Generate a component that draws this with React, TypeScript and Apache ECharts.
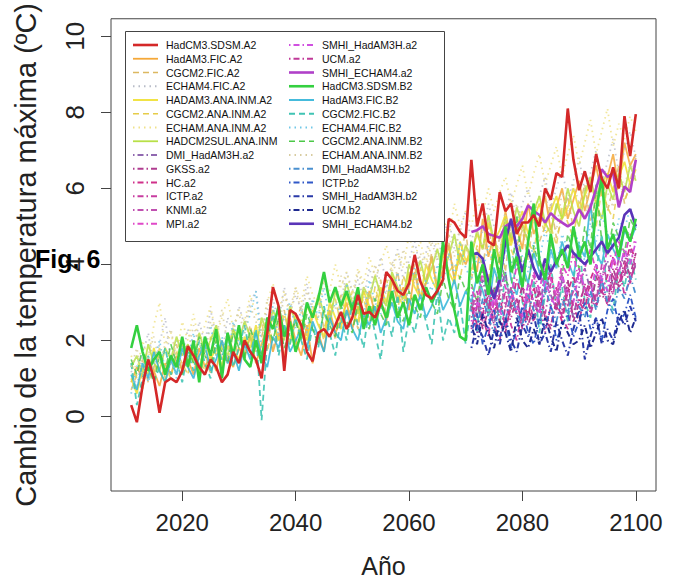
import React, { useEffect, useRef } from 'react';
import * as echarts from 'echarts';

// ---------- data ----------
const fullYears: number[] = Array.from({ length: 90 }, (_, i) => 2011 + i); // 2011..2100
const rcmYears: number[] = Array.from({ length: 30 }, (_, i) => 2071 + i); // 2071..2100

const xTicks = [2020, 2040, 2060, 2080, 2100];
const yTicks = [0, 2, 4, 6, 8, 10];

const hadcm3SdsmA2 = [
  0.3, -0.15, 0.8, 1.5, 1.0, 0.1, 0.9, 1.0, 0.9, 1.2,
  1.85, 1.6, 1.3, 1.1, 1.5, 1.3, 0.9, 1.1, 1.7, 1.4,
  2.0, 1.7, 1.5, 1.0, 2.2, 3.4, 2.9, 1.2, 2.8, 2.7,
  2.4, 1.7, 1.45, 2.2, 2.3, 2.1, 2.4, 2.75, 2.3, 2.6,
  3.2, 2.7, 2.75, 2.6, 2.95, 3.8, 3.6, 3.3, 3.2, 3.5,
  4.25, 3.55, 3.2, 3.1, 3.3, 3.6, 5.2, 5.1, 4.85, 4.7,
  6.75, 5.0, 5.6, 4.6, 4.5, 5.9, 5.4, 5.6, 4.8, 5.1,
  5.1, 5.3, 5.0, 6.0, 5.7, 6.4, 6.3, 8.1, 6.75, 5.95,
  6.45, 5.9, 6.9, 6.25, 6.0, 6.55, 6.0, 7.9, 6.85, 7.95,
];
const hadam3FicA2 = [
  0.9, 1.3, 1.0, 1.5, 1.2, 0.8, 1.4, 1.1, 1.6, 1.2,
  1.5, 1.1, 1.8, 1.3, 1.6, 1.2, 2.0, 1.5, 1.3, 1.8,
  1.6, 2.1, 1.4, 1.9, 2.4, 1.7, 2.2, 1.5, 2.6, 2.0,
  1.6, 2.4, 1.4, 2.2, 1.7, 2.8, 2.2, 2.5, 3.0, 2.3,
  2.9, 2.4, 3.3, 2.7, 3.1, 2.5, 3.6, 3.0, 3.4, 2.8,
  3.8, 3.1, 3.5, 4.2, 3.3, 3.9, 4.5, 3.6, 4.3, 4.0,
  4.4, 3.8, 5.2, 4.2, 4.8, 4.0, 5.4, 4.6, 5.0, 4.4,
  5.6, 4.8, 5.2, 5.8, 4.9, 5.5, 6.0, 5.2, 5.7, 6.2,
  5.4, 6.0, 6.6, 5.8, 6.3, 6.9, 6.0, 7.2, 6.6, 6.9,
];
const cgcm2FicA2 = [
  0.7, 1.1, 1.5, 0.9, 1.3, 1.7, 1.0, 1.4, 1.9, 1.2,
  1.6, 2.0, 1.3, 1.7, 1.1, 2.1, 1.5, 1.8, 2.3, 1.4,
  1.9, 2.4, 1.7, 2.1, 2.6, 1.8, 2.3, 2.8, 1.9, 2.5,
  2.9, 2.1, 2.6, 3.1, 2.3, 2.8, 2.0, 3.2, 2.6, 2.9,
  2.3, 3.3, 2.7, 3.0, 3.6, 2.6, 3.2, 3.8, 2.9, 3.4,
  4.0, 3.1, 3.6, 4.3, 3.4, 3.9, 4.6, 3.7, 4.2, 4.9,
  3.6, 4.4, 3.9, 5.0, 4.2, 4.7, 3.8, 5.2, 4.5, 4.9,
  4.1, 5.3, 4.6, 5.0, 5.6, 4.7, 5.2, 5.8, 4.9, 5.5,
  6.1, 5.1, 5.7, 6.3, 5.4, 6.0, 6.6, 5.6, 6.2, 6.8,
];
const echam4FicA2 = [
  1.2, 0.8, 1.6, 2.2, 1.3, 1.9, 2.6, 1.4, 2.0, 1.6,
  2.3, 1.7, 2.5, 1.9, 2.8, 2.1, 1.6, 2.6, 2.2, 2.9,
  2.4, 3.0, 3.3, 2.2, 2.8, 3.1, 2.5, 3.4, 2.7, 3.2,
  2.8, 3.5, 2.6, 3.2, 3.7, 2.9, 3.4, 3.0, 3.8, 3.3,
  3.6, 3.1, 3.9, 3.4, 4.2, 3.5, 3.9, 4.4, 3.6, 4.1,
  4.6, 3.9, 4.3, 4.9, 4.1, 4.7, 5.2, 4.4, 4.9, 5.4,
  4.6, 5.2, 4.8, 5.6, 5.0, 4.6, 5.4, 5.9, 5.1, 5.6,
  6.0, 5.3, 5.8, 6.3, 5.5, 6.0, 6.5, 5.7, 6.2, 6.8,
  5.9, 6.4, 7.0, 6.1, 6.7, 7.3, 6.4, 7.0, 7.5, 6.8,
];
const hadam3AnaInmA2 = [
  1.0, 0.6, 1.3, 1.1, 1.8, 1.2, 0.9, 1.6, 1.3, 1.9,
  1.4, 1.7, 1.2, 2.0, 1.5, 1.8, 1.3, 2.2, 1.7, 1.5,
  2.1, 1.8, 2.4, 1.6, 2.2, 2.6, 2.0, 2.3, 1.9, 2.7,
  2.3, 2.0, 2.8, 2.4, 2.1, 3.0, 2.6, 2.3, 3.2, 2.7,
  2.5, 3.3, 2.9, 2.6, 3.4, 3.0, 3.7, 3.2, 2.9, 3.8,
  3.4, 3.1, 4.0, 3.6, 3.3, 4.3, 3.8, 3.5, 4.6, 4.1,
  4.3, 4.8, 4.4, 5.1, 4.6, 4.9, 5.3, 4.5, 5.0, 5.4,
  4.8, 5.2, 5.6, 5.0, 5.4, 5.8, 5.2, 5.5, 6.0, 5.4,
  5.8, 6.2, 5.6, 6.1, 6.4, 5.9, 6.3, 6.7, 6.1, 6.5,
];
const cgcm2AnaInmA2 = [
  1.4, 1.0, 0.7, 1.5, 1.1, 1.8, 1.3, 1.0, 1.7, 1.4,
  1.1, 1.9, 1.5, 1.2, 2.1, 1.6, 1.9, 1.4, 2.3, 1.8,
  1.5, 2.2, 1.9, 2.5, 1.7, 2.4, 2.0, 2.7, 2.2, 1.9,
  2.6, 2.2, 2.9, 2.5, 2.0, 2.8, 3.1, 2.4, 2.7, 3.3,
  2.8, 3.1, 2.5, 3.4, 2.9, 3.6, 3.1, 2.8, 3.7, 3.3,
  3.0, 3.9, 3.5, 4.1, 3.3, 4.4, 3.8, 4.0, 3.6, 4.5,
  3.8, 4.5, 4.0, 3.6, 4.7, 4.2, 4.9, 4.4, 4.0, 5.1,
  4.6, 4.3, 5.3, 4.8, 5.0, 4.5, 5.5, 5.1, 4.7, 5.7,
  5.2, 5.5, 5.0, 6.0, 5.5, 5.2, 6.2, 5.7, 6.0, 6.4,
];
const echamAnaInmA2 = [
  1.6, 1.2, 2.0, 1.5, 2.4, 3.0, 1.8, 2.2, 1.6, 2.5,
  2.0, 2.7, 1.9, 2.4, 2.9, 2.1, 2.6, 3.1, 2.3, 2.8,
  2.5, 3.2, 2.7, 2.2, 3.0, 3.5, 2.8, 3.3, 2.6, 3.4,
  3.0, 3.7, 3.2, 2.9, 3.6, 3.3, 4.0, 3.4, 3.8, 3.2,
  3.9, 3.5, 4.2, 3.7, 4.0, 4.5, 3.8, 4.3, 3.9, 4.8,
  4.2, 4.6, 4.0, 4.9, 4.4, 5.3, 4.7, 5.6, 5.0, 5.4,
  5.0, 5.7, 5.3, 6.0, 5.4, 5.9, 6.3, 5.6, 6.1, 6.6,
  5.8, 6.4, 6.9, 6.1, 6.6, 7.1, 6.3, 6.9, 7.4, 6.6,
  7.2, 7.8, 6.9, 7.5, 8.1, 7.1, 7.7, 7.3, 7.9, 7.5,
];
const hadcm2sulAnaInm = [
  1.3, 1.6, 1.1, 1.9, 1.4, 1.2, 1.8, 1.5, 2.1, 1.6,
  1.9, 1.4, 2.2, 1.7, 2.0, 2.4, 1.8, 1.6, 2.3, 2.0,
  2.5, 2.1, 1.8, 2.6, 2.2, 2.8, 2.4, 2.0, 2.9, 2.5,
  2.2, 2.9, 2.6, 3.2, 2.7, 2.4, 3.3, 2.9, 3.5, 3.0,
  2.7, 3.4, 3.1, 3.7, 3.2, 2.9, 3.8, 3.4, 3.1, 4.0,
  3.6, 4.1, 3.5, 3.9, 4.4, 3.8, 4.2, 4.8, 4.0, 4.5,
  4.2, 4.9, 4.4, 5.3, 4.6, 4.1, 5.2, 4.7, 5.5, 5.0,
  4.6, 5.4, 5.8, 5.1, 4.8, 5.6, 5.2, 6.0, 5.4, 5.0,
  5.9, 6.3, 5.6, 5.2, 6.1, 5.7, 6.4, 5.9, 6.6, 6.2,
];
const dmiA2 = [3.2, 2.6, 3.6, 2.9, 2.4, 3.3, 3.8, 2.8, 3.1, 2.5, 3.5, 3.0, 2.7, 3.9, 3.2, 2.8, 3.6, 3.1, 2.6, 3.4, 3.9, 3.3, 2.9, 3.7, 4.1, 3.4, 3.8, 4.3, 3.6, 4.0];
const gkssA2 = [2.6, 3.1, 2.3, 2.8, 3.4, 2.5, 2.2, 3.0, 2.7, 3.5, 2.4, 2.9, 3.3, 2.6, 2.3, 3.1, 2.8, 3.6, 2.5, 3.0, 3.4, 2.8, 3.7, 3.2, 3.0, 3.9, 3.4, 4.1, 3.7, 4.3];
const hcA2 = [3.0, 2.4, 2.8, 3.5, 2.7, 3.2, 2.3, 2.9, 3.6, 3.1, 2.6, 3.4, 2.8, 3.3, 3.8, 2.9, 2.5, 3.3, 3.7, 3.0, 2.8, 3.6, 4.0, 3.3, 3.7, 4.2, 3.5, 3.9, 4.5, 4.1];
const ictpA2 = [2.3, 2.9, 2.6, 2.1, 3.1, 2.7, 3.3, 2.4, 2.0, 2.8, 3.2, 2.5, 3.0, 2.2, 2.9, 3.4, 2.6, 2.3, 3.1, 2.8, 3.5, 2.7, 3.2, 3.6, 2.9, 3.4, 3.9, 3.2, 3.6, 4.0];
const knmiA2 = [2.8, 3.3, 2.5, 3.0, 2.6, 3.6, 2.9, 3.4, 2.7, 2.4, 3.2, 3.7, 3.0, 2.7, 3.5, 3.1, 3.8, 2.9, 3.3, 3.9, 3.2, 3.5, 3.0, 4.0, 3.6, 3.2, 4.2, 3.7, 4.4, 3.9];
const mpiA2 = [3.4, 2.9, 3.8, 3.2, 2.8, 3.9, 3.4, 3.1, 4.0, 3.5, 3.0, 3.8, 3.3, 4.1, 3.6, 3.2, 4.0, 3.7, 4.3, 3.5, 3.9, 4.4, 3.8, 3.5, 4.5, 4.0, 4.6, 4.2, 4.8, 4.5];
const smhiHadA2 = [2.5, 3.0, 2.7, 2.3, 3.2, 2.8, 2.4, 3.3, 2.9, 2.6, 3.5, 3.0, 2.7, 3.6, 3.1, 2.9, 3.7, 3.2, 3.0, 3.8, 3.4, 3.1, 4.0, 3.6, 3.3, 4.2, 3.8, 4.4, 4.0, 4.6];
const ucmA2 = [2.9, 2.2, 2.7, 3.2, 2.4, 2.0, 2.9, 2.6, 3.1, 2.3, 2.8, 2.5, 3.3, 2.7, 2.4, 3.0, 2.6, 3.4, 2.9, 2.5, 3.2, 3.6, 2.9, 3.3, 3.0, 3.7, 3.3, 3.9, 3.5, 4.1];
const smhiEchamA2 = [4.85, 4.9, 5.0, 4.8, 4.75, 4.7, 5.0, 5.1, 5.0, 5.2, 5.55, 5.4, 5.3, 5.1, 5.35, 5.2, 5.1, 5.0, 5.1, 5.45, 5.2, 5.5, 6.0, 6.5, 6.3, 6.4, 5.5, 6.05, 5.9, 6.75];
const hadcm3SdsmB2 = [
  1.8, 2.4, 1.7, 1.2, 1.5, 1.7, 1.1, 1.6, 1.3, 2.1,
  1.3, 2.0, 0.9, 2.1, 1.6, 2.3, 1.0, 2.2, 1.6, 2.4,
  1.5, 1.3, 2.0, 1.4, 2.6, 2.3, 2.9, 2.1, 2.5, 1.7,
  2.2, 3.0, 2.6, 3.1, 3.8, 3.0, 3.4, 2.9, 3.3, 2.8,
  3.4, 2.3, 2.9, 2.4, 3.0, 2.6, 3.3, 2.6, 3.0, 2.4,
  3.2, 2.8, 3.4, 3.0, 3.3, 4.6, 3.6, 2.8, 2.1, 2.0,
  4.6, 3.5, 4.0, 3.2, 4.4, 3.6, 5.0, 3.8, 4.2, 3.4,
  4.6, 5.6, 4.1, 3.6, 4.8, 4.0, 4.4, 3.9, 5.0, 4.2,
  4.6, 4.0, 5.4, 6.3, 4.4, 4.8, 4.2, 5.0, 4.6, 5.2,
];
const hadam3FicB2 = [
  1.1, 0.7, 1.4, 1.0, 1.7, 1.2, 0.9, 1.5, 1.1, 1.8,
  1.3, 1.0, 1.6, 1.9, 1.2, 1.5, 2.0, 1.4, 1.7, 1.2,
  1.9, 1.5, 2.2, 1.6, 1.3, 2.1, 1.8, 2.4, 1.7, 2.0,
  2.3, 1.8, 2.5, 2.1, 1.7, 2.6, 2.2, 2.0, 2.8, 2.3,
  2.0, 2.7, 2.4, 2.9, 2.2, 2.6, 3.0, 2.5, 2.3, 3.1,
  2.7, 3.2, 2.6, 2.9, 3.4, 2.8, 3.1, 3.6, 2.9, 3.3,
  3.0, 3.7, 3.3, 2.8, 3.9, 3.4, 4.8, 3.6, 3.2, 4.0,
  3.5, 4.3, 3.8, 3.4, 4.4, 3.9, 4.6, 4.1, 3.7, 4.5,
  4.2, 5.6, 4.3, 4.0, 4.8, 4.4, 4.1, 4.9, 4.6, 5.0,
];
const cgcm2FicB2 = [
  1.4, 0.3, 1.0, 1.6, 0.9, 1.3, 1.8, 1.1, 1.5, 0.9,
  1.7, 1.2, 2.0, 1.4, 1.0, 1.9, 1.5, 2.2, 1.3, 1.8,
  2.4, 1.6, 2.3, -0.1, 2.0, 2.7, 1.6, 2.4, 1.9, 2.6,
  2.0, 1.5, 2.4, 1.8, 2.9, 2.2, 1.6, 2.6, 2.0, 3.0,
  2.4, 1.8, 2.9, 2.2, 1.5, 2.7, 2.1, 3.2, 1.7, 2.6,
  2.2, 3.0, 2.5, 1.9, 3.3, 2.0, 2.6, 2.2, 3.0, 1.9,
  3.0, 2.2, 4.2, 2.6, 3.4, 2.4, 3.8, 2.8, 4.4, 3.0,
  2.6, 3.6, 2.2, 3.2, 4.0, 2.8, 3.4, 2.5, 3.6, 4.6,
  3.0, 2.6, 3.8, 4.8, 3.2, 2.8, 3.9, 3.4, 4.2, 3.6,
];
const echam4FicB2 = [
  0.6, 1.3, 1.7, 0.9, 1.4, 2.0, 1.2, 1.6, 1.0, 1.9,
  1.5, 2.2, 1.3, 1.8, 2.4, 1.6, 2.1, 1.4, 2.5, 1.9,
  2.2, 2.7, 3.3, 1.8, 2.4, 2.9, 2.1, 2.6, 3.0, 2.3,
  2.8, 2.2, 3.1, 2.6, 3.4, 2.5, 3.0, 2.7, 3.5, 2.9,
  3.2, 2.6, 3.6, 3.0, 2.7, 3.5, 3.1, 3.8, 2.9, 3.4,
  3.9, 3.1, 3.6, 3.3, 4.0, 3.5, 4.3, 3.7, 4.6, 3.9,
  3.6, 4.2, 3.8, 4.5, 3.9, 3.4, 4.4, 4.0, 4.7, 4.2,
  3.8, 4.6, 4.1, 4.9, 4.3, 3.9, 4.8, 4.4, 5.0, 4.5,
  4.1, 5.1, 4.6, 5.3, 4.8, 4.4, 5.2, 4.9, 5.5, 5.0,
];
const cgcm2AnaInmB2 = [
  1.5, 1.1, 1.8, 1.3, 0.9, 1.6, 1.2, 1.9, 1.4, 1.1,
  1.8, 1.4, 2.1, 1.6, 1.3, 2.0, 1.7, 1.4, 2.2, 1.8,
  1.5, 2.3, 1.9, 1.6, 2.4, 2.0, 2.6, 1.8, 2.2, 2.5,
  2.0, 2.7, 2.3, 1.9, 2.8, 2.4, 2.1, 2.9, 2.5, 2.2,
  3.0, 2.6, 2.3, 3.1, 2.7, 2.4, 3.2, 2.8, 2.5, 3.3,
  2.9, 2.6, 3.4, 3.0, 2.7, 3.6, 3.1, 2.8, 3.7, 3.3,
  3.5, 3.0, 4.0, 3.4, 3.1, 4.2, 3.6, 3.3, 5.3, 3.8,
  3.4, 4.5, 3.9, 3.6, 4.6, 4.1, 3.7, 4.8, 4.3, 3.9,
  5.0, 4.4, 6.1, 4.6, 4.2, 5.1, 4.7, 4.3, 5.2, 4.9,
];
const echamAnaInmB2 = [
  1.3, 1.8, 1.0, 1.6, 2.1, 1.4, 1.9, 2.3, 1.5, 2.0,
  1.7, 2.4, 1.9, 1.6, 2.5, 2.1, 2.8, 1.9, 2.4, 2.7,
  2.2, 2.9, 2.5, 2.1, 3.1, 2.6, 2.3, 3.2, 2.8, 3.4,
  2.7, 3.3, 2.9, 2.6, 3.6, 3.1, 2.8, 3.7, 3.3, 3.0,
  3.8, 3.4, 3.1, 4.0, 3.5, 3.2, 4.1, 3.7, 4.4, 3.8,
  3.5, 4.3, 3.9, 4.6, 4.1, 3.8, 4.8, 4.2, 5.0, 4.5,
  4.2, 4.9, 4.4, 5.2, 4.7, 4.3, 5.3, 4.8, 5.6, 5.0,
  4.6, 5.5, 5.1, 5.8, 5.3, 4.9, 5.9, 5.4, 6.1, 5.6,
  5.2, 6.2, 5.7, 6.4, 5.9, 5.5, 6.5, 6.0, 6.7, 6.2,
];
const dmiB2 = [2.8, 2.3, 3.1, 2.6, 2.2, 3.0, 2.5, 3.3, 2.7, 2.4, 3.2, 2.8, 2.4, 3.4, 2.9, 2.5, 3.1, 2.7, 3.5, 2.9, 2.6, 3.3, 2.8, 3.6, 3.0, 2.7, 3.4, 3.1, 3.7, 3.2];
const ictpB2 = [2.2, 2.7, 1.9, 2.4, 2.8, 2.1, 2.5, 1.8, 2.3, 2.9, 2.2, 1.9, 2.6, 2.3, 2.9, 2.0, 2.4, 2.7, 2.1, 2.5, 3.0, 2.3, 2.6, 2.0, 2.8, 3.1, 2.4, 2.7, 3.2, 2.6];
const smhiHadB2 = [1.8, 2.4, 2.1, 1.6, 2.3, 1.9, 2.6, 2.0, 1.7, 2.4, 2.1, 2.7, 1.9, 2.2, 1.7, 2.5, 2.0, 1.6, 2.3, 2.8, 1.5, 2.1, 2.6, 1.9, 2.3, 2.0, 2.7, 2.4, 2.9, 2.5];
const ucmB2 = [2.4, 1.9, 2.7, 2.2, 1.8, 2.5, 2.2, 1.7, 2.6, 2.0, 1.8, 2.3, 1.9, 2.6, 2.1, 1.7, 2.5, 2.2, 1.9, 2.0, 2.4, 1.8, 2.2, 2.6, 2.0, 1.9, 2.5, 2.8, 2.2, 2.6];
const smhiEchamB2 = [4.25, 4.3, 4.15, 3.55, 3.1, 3.6, 4.6, 5.2, 4.4, 3.8, 4.4, 3.9, 3.6, 4.15, 3.8, 4.1, 4.3, 4.5, 4.3, 4.15, 4.0, 4.2, 4.4, 4.6, 4.3, 4.5, 4.7, 5.3, 5.45, 5.0];

const seriesNames = [
  'HadCM3.SDSM.A2', 'HadAM3.FIC.A2', 'CGCM2.FIC.A2', 'ECHAM4.FIC.A2',
  'HADAM3.ANA.INM.A2', 'CGCM2.ANA.INM.A2', 'ECHAM.ANA.INM.A2', 'HADCM2SUL.ANA.INM',
  'DMI_HadAM3H.a2', 'GKSS.a2', 'HC.a2', 'ICTP.a2', 'KNMI.a2', 'MPI.a2',
  'SMHI_HadAM3H.a2', 'UCM.a2', 'SMHI_ECHAM4.a2', 'HadCM3.SDSM.B2',
  'HadAM3.FIC.B2', 'CGCM2.FIC.B2', 'ECHAM4.FIC.B2', 'CGCM2.ANA.INM.B2',
  'ECHAM.ANA.INM.B2', 'DMI_HadAM3H.b2', 'ICTP.b2', 'SMHI_HadAM3H.b2', 'UCM.b2', 'SMHI_ECHAM4.b2',
];
const seriesValues = [
  hadcm3SdsmA2, hadam3FicA2, cgcm2FicA2, echam4FicA2,
  hadam3AnaInmA2, cgcm2AnaInmA2, echamAnaInmA2, hadcm2sulAnaInm,
  dmiA2, gkssA2, hcA2, ictpA2, knmiA2, mpiA2,
  smhiHadA2, ucmA2, smhiEchamA2, hadcm3SdsmB2,
  hadam3FicB2, cgcm2FicB2, echam4FicB2, cgcm2AnaInmB2,
  echamAnaInmB2, dmiB2, ictpB2, smhiHadB2, ucmB2, smhiEchamB2,
];

// ---------- styles ----------
const DASH = [6, 4];
const DOT = [1.5, 4];
const DOTDASH = [1.5, 3, 6, 3];
const seriesStyles: { color: string; dash: number[] | null; width: number; opacity: number; z: number }[] = [
  { color: '#d42828', dash: null, width: 2.6, opacity: 1, z: 8 },
  { color: '#f5a838', dash: null, width: 1.8, opacity: 0.85, z: 3 },
  { color: '#dcb860', dash: DASH, width: 1.6, opacity: 0.8, z: 3 },
  { color: '#b8bcc8', dash: DOT, width: 1.8, opacity: 0.8, z: 3 },
  { color: '#f0e030', dash: null, width: 1.8, opacity: 0.85, z: 3 },
  { color: '#e6cc48', dash: DASH, width: 1.6, opacity: 0.8, z: 3 },
  { color: '#f0e28a', dash: DOT, width: 1.8, opacity: 0.85, z: 3 },
  { color: '#b8e048', dash: null, width: 1.8, opacity: 0.85, z: 3 },
  { color: '#9068b0', dash: DOTDASH, width: 1.8, opacity: 1, z: 4 },
  { color: '#b03c90', dash: DOTDASH, width: 1.8, opacity: 1, z: 4 },
  { color: '#d0308a', dash: DOTDASH, width: 1.8, opacity: 1, z: 4 },
  { color: '#c83ca0', dash: DOTDASH, width: 1.8, opacity: 1, z: 4 },
  { color: '#c050b0', dash: DOTDASH, width: 1.8, opacity: 1, z: 4 },
  { color: '#e048c8', dash: DOTDASH, width: 1.8, opacity: 1, z: 4 },
  { color: '#d050e0', dash: DOTDASH, width: 1.8, opacity: 1, z: 4 },
  { color: '#c03898', dash: DOTDASH, width: 1.8, opacity: 1, z: 4 },
  { color: '#b040c8', dash: null, width: 2.6, opacity: 1, z: 6 },
  { color: '#34d040', dash: null, width: 2.6, opacity: 1, z: 7 },
  { color: '#30b4d8', dash: null, width: 1.8, opacity: 0.85, z: 3 },
  { color: '#40c4b4', dash: DASH, width: 1.8, opacity: 0.9, z: 3 },
  { color: '#70c8e8', dash: DOT, width: 1.8, opacity: 0.85, z: 3 },
  { color: '#4cc848', dash: DASH, width: 1.6, opacity: 0.85, z: 3 },
  { color: '#d8cca0', dash: DOT, width: 1.8, opacity: 0.85, z: 3 },
  { color: '#4a90d0', dash: DOTDASH, width: 1.8, opacity: 1, z: 4 },
  { color: '#3058c8', dash: DOTDASH, width: 1.8, opacity: 1, z: 4 },
  { color: '#2a3aa8', dash: DOTDASH, width: 2, opacity: 1, z: 4 },
  { color: '#1e2a90', dash: DOTDASH, width: 2, opacity: 1, z: 4 },
  { color: '#5a34b8', dash: null, width: 2.6, opacity: 1, z: 6 },
];

const FONT = 'Liberation Sans, Arial, Helvetica, sans-serif';

function buildLegend() {
  const els: any[] = [
    {
      type: 'rect', z: 20,
      shape: { x: 125.5, y: 31.5, width: 319, height: 210 },
      style: { fill: '#ffffff', stroke: '#444', lineWidth: 1 },
    },
  ];
  seriesNames.forEach((name, i) => {
    const col = i < 14 ? 0 : 1;
    const row = i % 14;
    const cy = 45 + row * 13.75;
    const x0 = col === 0 ? 133 : 289;
    const st = seriesStyles[i];
    els.push({
      type: 'line', z: 21,
      shape: { x1: x0, y1: cy, x2: x0 + 25, y2: cy },
      style: { stroke: st.color, lineWidth: st.width, lineDash: st.dash || undefined },
    });
    els.push({
      type: 'text', z: 21, x: x0 + 33, y: cy,
      style: { text: name, fontSize: 10.5, fontFamily: FONT, fill: '#111', verticalAlign: 'middle', align: 'left' },
    });
  });
  return els;
}

export default function App() {
  const ref = useRef<HTMLDivElement>(null);
  useEffect(() => {
    if (!ref.current) return;
    const chart = echarts.init(ref.current, undefined, { renderer: 'svg' });
    const series = seriesNames.map((name, i) => {
      const vals = seriesValues[i];
      const yrs = vals.length === 90 ? fullYears : rcmYears;
      const st = seriesStyles[i];
      return {
        name,
        type: 'line',
        symbol: 'none',
        z: st.z,
        data: vals.map((v, j) => [yrs[j], v]),
        lineStyle: { color: st.color, width: st.width, type: st.dash || 'solid', opacity: st.opacity },
        itemStyle: { color: st.color },
        emphasis: { disabled: true },
      };
    });
    chart.setOption({
      animation: false,
      backgroundColor: '#ffffff',
      grid: {
        left: 111, right: 17, top: 15, bottom: 96,
        show: true, borderColor: '#444', borderWidth: 1, backgroundColor: 'transparent',
      },
      xAxis: {
        type: 'value', min: 2007.44, max: 2103.56,
        splitLine: { show: false },
        axisLine: { show: false, onZero: false },
        axisTick: { show: true, inside: false, length: 10, customValues: xTicks, lineStyle: { color: '#444' } },
        axisLabel: {
          customValues: xTicks, fontSize: 24, color: '#222', margin: 19, fontFamily: FONT,
          formatter: (v: number) => String(v),
        },
        name: 'Año', nameLocation: 'middle', nameGap: 62,
        nameTextStyle: { fontSize: 25, color: '#222', fontFamily: FONT },
      },
      yAxis: {
        type: 'value', min: -1.96, max: 10.46,
        splitLine: { show: false },
        axisLine: { show: false, onZero: false },
        axisTick: { show: true, inside: false, length: 10, customValues: yTicks, lineStyle: { color: '#444' } },
        axisLabel: {
          customValues: yTicks, rotate: 90, fontSize: 26, color: '#222', margin: 23, fontFamily: FONT,
          formatter: (v: number) => String(v),
        },
        name: 'Cambio de la temperatura máxima (ºC)', nameLocation: 'middle', nameGap: 71,
        nameTextStyle: { fontSize: 29, color: '#222', fontFamily: FONT },
      },
      graphic: [
        ...buildLegend(),
        {
          type: 'text', left: 35, top: 246, z: 100,
          style: { text: 'Fig. 6', fontSize: 25, fontWeight: 'bold', fill: '#000', fontFamily: FONT },
        },
      ],
      series,
    });
    return () => chart.dispose();
  }, []);
  return (
    <div
      ref={ref}
      style={{ position: 'fixed', left: 0, top: 0, width: 673, height: 587, background: '#fff' }}
    />
  );
}
